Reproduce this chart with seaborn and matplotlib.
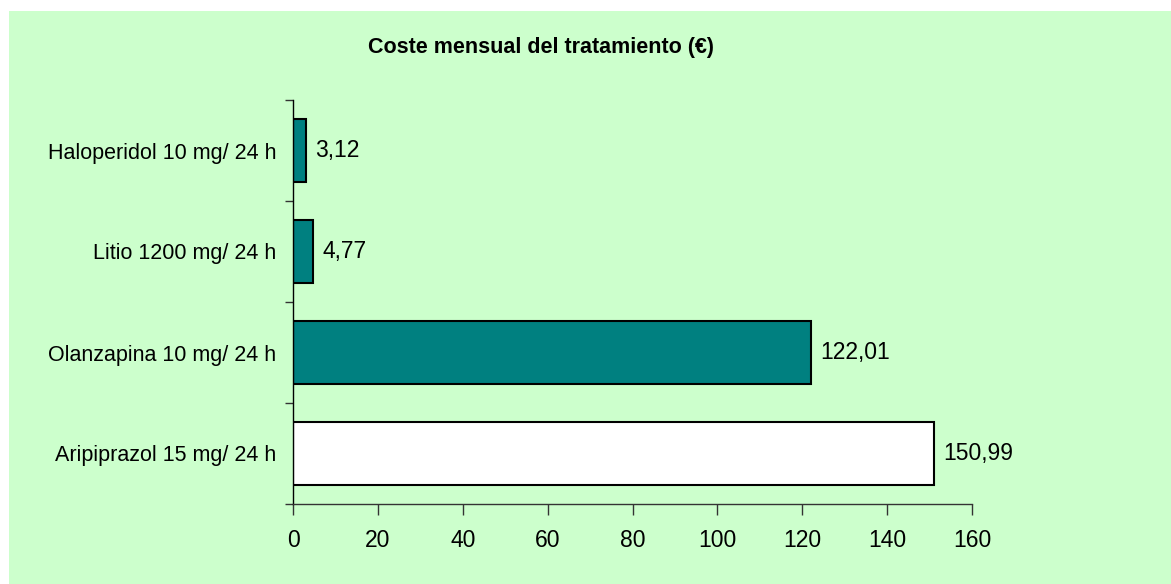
import numpy as np
import pandas as pd
import seaborn as sns
import matplotlib.pyplot as plt
from matplotlib.patches import Rectangle

# --- Data ---
tratamientos = [
    "Haloperidol 10 mg/ 24 h",
    "Litio 1200 mg/ 24 h",
    "Olanzapina 10 mg/ 24 h",
    "Aripiprazol 15 mg/ 24 h",
]
coste = [3.12, 4.77, 122.01, 150.99]
colores = ["#008080", "#008080", "#008080", "#FFFFFF"]
xticks = [0, 20, 40, 60, 80, 100, 120, 140, 160]

df = pd.DataFrame({"tratamiento": tratamientos, "coste": coste})

sns.set_style("white")
plt.rcParams["font.family"] = ["Liberation Sans", "DejaVu Sans"]
plt.rcParams["text.color"] = "black"
plt.rcParams["xtick.color"] = "black"
plt.rcParams["ytick.color"] = "black"

W, H = 1171, 584
fig = plt.figure(figsize=(W / 100, H / 100), dpi=100)
fig.patch.set_facecolor("white")

# green chart area (leaves thin white margin on top/left)
fig.patches.append(Rectangle((9 / W, 0), 1, (H - 11) / H,
                             transform=fig.transFigure, facecolor="#CCFFCC",
                             edgecolor="none", zorder=-10))

ax = fig.add_axes([293 / W, 1 - 504 / H, (972 - 293) / W, (504 - 100) / H])
ax.patch.set_visible(False)

sns.barplot(data=df, x="coste", y="tratamiento", hue="tratamiento",
            palette=colores, legend=False, orient="h", width=0.62,
            edgecolor="black", linewidth=1.5, saturation=1, ax=ax)

# --- Value labels ---
for i, v in enumerate(coste):
    ax.text(v + 2.2, i, f"{v:.2f}".replace(".", ","), va="center", ha="left",
            fontsize=16.5, color="black")

# --- Axes styling ---
ax.set_xlim(0, 160)
ax.set_ylim(3.5, -0.5)
ax.set_xticks(xticks)
ax.set_xticklabels([str(t) for t in xticks], fontsize=16.5, color="black")
ax.set_yticks(range(len(tratamientos)))
ax.set_yticklabels(tratamientos, fontsize=15.5, color="black")
ax.set_yticks(np.arange(-0.5, 4.0, 1.0), minor=True)
ax.tick_params(axis="y", which="major", left=False, length=0, pad=12)
ax.tick_params(axis="y", which="minor", left=True, length=6, width=1,
               color="#333333", direction="out")
ax.tick_params(axis="x", bottom=True, length=8, width=1, color="#333333",
               direction="out", pad=10)
ax.set_xlabel("")
ax.set_ylabel("")

for side in ["top", "right"]:
    ax.spines[side].set_visible(False)
ax.spines["left"].set_color("black")
ax.spines["left"].set_linewidth(1)
ax.spines["bottom"].set_color("#333333")
ax.spines["bottom"].set_linewidth(1)

fig.text(541 / W, 1 - 47 / H, "Coste mensual del tratamiento (€)",
         ha="center", va="center", fontsize=15.5, fontweight="bold",
         color="black")

plt.savefig("out.png", dpi=100)
plt.close()
